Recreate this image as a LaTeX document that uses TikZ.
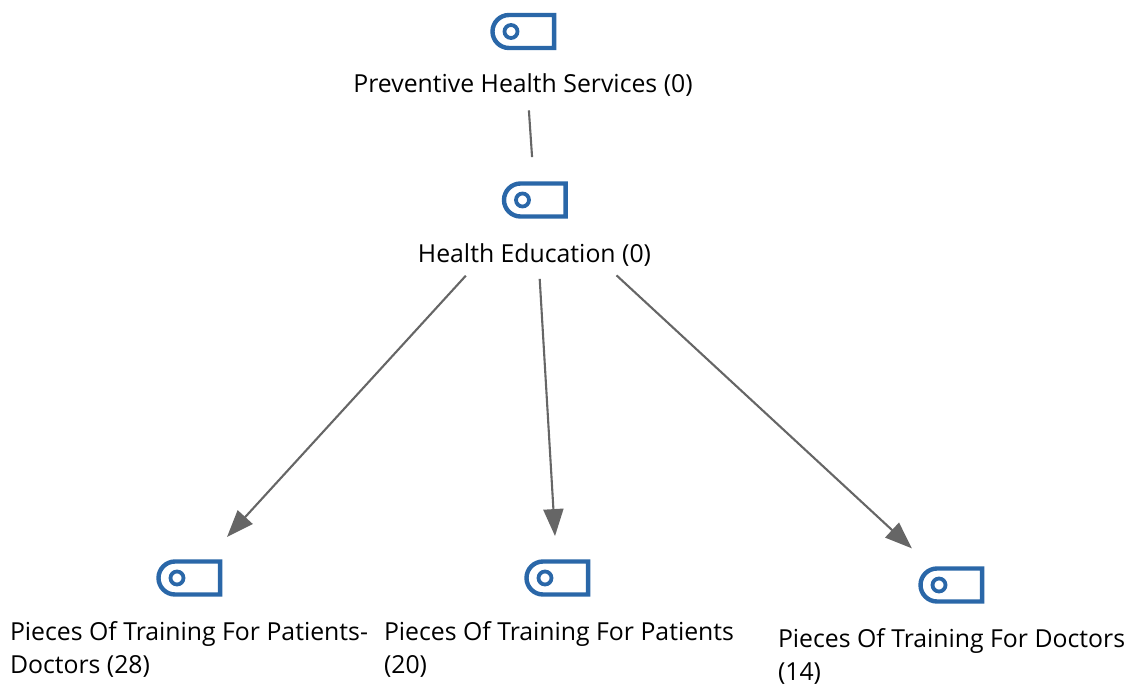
\documentclass[tikz,border=0pt]{standalone}
\usepackage{fontspec}
\setmainfont{Open Sans}
\usetikzlibrary{arrows.meta}
\definecolor{iconblue}{HTML}{2A67A8}
\definecolor{edgegray}{HTML}{666666}
\tikzset{
  iconnode/.style={inner sep=0pt,outer sep=0pt,minimum width=65pt,minimum height=37pt,anchor=center},
  lbl/.style={inner sep=0pt,outer sep=0pt,font=\fontsize{24.8pt}{33pt}\selectfont,align=left,text=black},
  edgeline/.style={draw=edgegray,line width=2.1pt},
  arrowline/.style={edgeline,-{Triangle[length=27pt,width=20pt]}},
  tagicon/.pic={
    \draw[iconblue,line width=4.4pt,line join=miter] (30.6,-16.5) -- (-14.5,-16.5) arc[start angle=270,end angle=90,radius=16.5] -- (30.6,16.5) -- cycle;
    \draw[iconblue,line width=3.8pt] (-12.5,0) circle[radius=6.5];
  }
}
\begin{document}
\begin{tikzpicture}[x=1pt,y=-1pt]
\useasboundingbox (0,0) rectangle (1134,687);
\node[iconnode] (i1) at (523.5,31.5) {};
\node[iconnode] (i2) at (535,200) {};
\node[iconnode] (i3) at (189.5,578) {};
\node[iconnode] (i4) at (557.5,578) {};
\node[iconnode] (i5) at (951.5,585) {};
\pic at (i1.center) {tagicon};
\pic at (i2.center) {tagicon};
\pic at (i3.center) {tagicon};
\pic at (i4.center) {tagicon};
\pic at (i5.center) {tagicon};
\node[lbl,anchor=center] (t1) at (523,85) {Preventive Health Services (0)};
\node[lbl,anchor=center] (t2) at (534.5,255) {Health Education (0)};
\node[lbl,anchor=north west] (t3) at (10,621.5) {Pieces Of Training For Patients-\\Doctors (28)};
\node[lbl,anchor=north west] (t4) at (384,621.5) {Pieces Of Training For Patients\\(20)};
\node[lbl,anchor=north west] (t5) at (778,628.5) {Pieces Of Training For Doctors\\(14)};
\draw[edgeline,shorten <=79pt,shorten >=43pt] (i1.center) -- (i2.center);
\draw[arrowline,shorten <=102.6pt,shorten >=55.6pt] (i2.center) -- (i3.center);
\draw[arrowline,shorten <=79pt,shorten >=42pt] (i2.center) -- (i4.center);
\draw[arrowline,shorten <=111pt,shorten >=54pt] (i2.center) -- (i5.center);
\end{tikzpicture}
\end{document}
